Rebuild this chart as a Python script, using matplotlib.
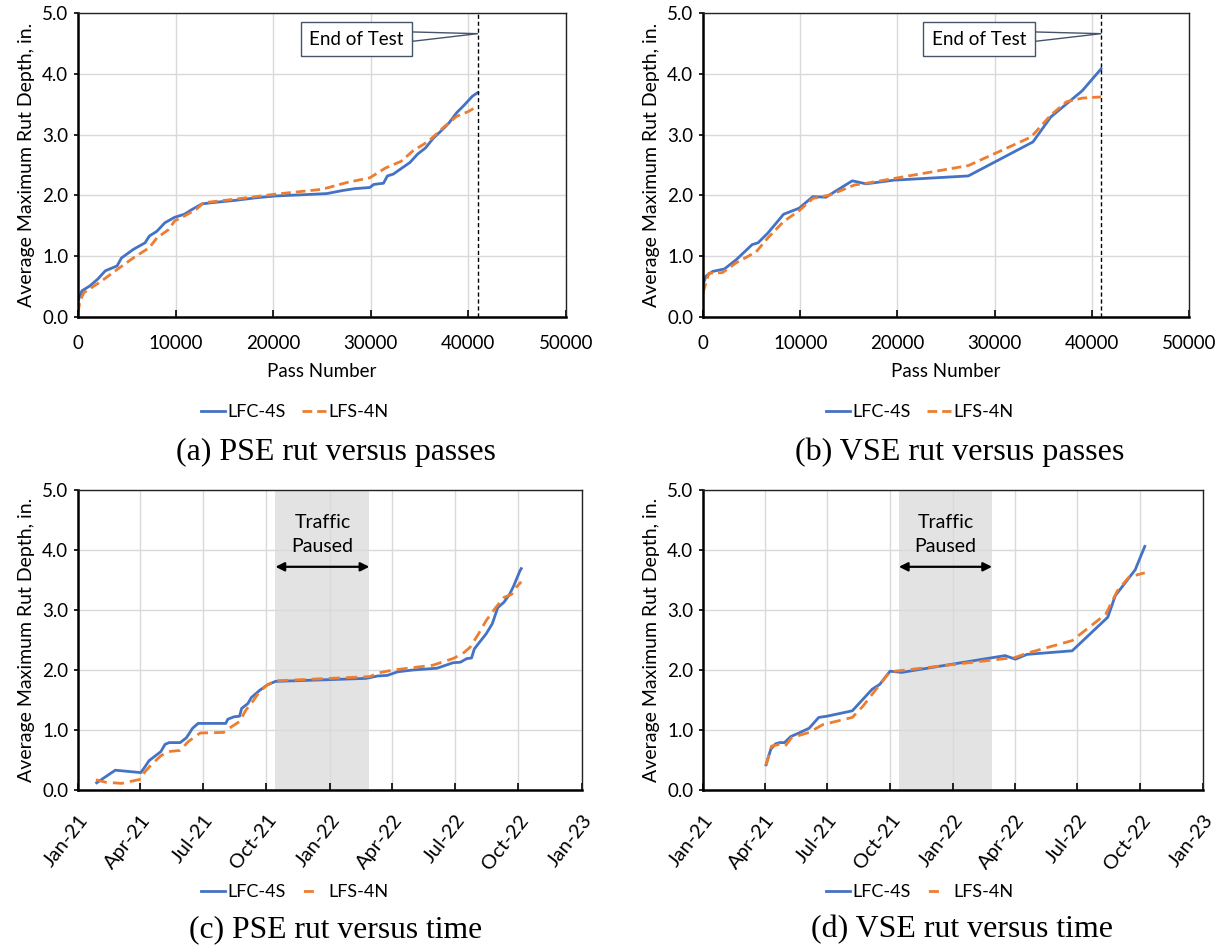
import matplotlib
matplotlib.use("Agg")
import matplotlib.pyplot as plt
import matplotlib.dates as mdates
from matplotlib.lines import Line2D
import pandas as pd

plt.rcParams['font.family'] = ['Lato', 'DejaVu Sans']

# ---------------- data ----------------
# (a) PSE rut versus passes
a_lfc_pass = [0, 400, 1200, 2000, 2800, 4000, 4450, 5650, 6870, 7300, 8080, 8900, 9900, 10900, 11700,
              12700, 13700, 16200, 18200, 20200, 24250, 25500, 27100, 28300, 29900, 30300, 31300,
              31700, 32300, 33100, 34000, 34800, 35600, 36400, 37200, 38000, 38800, 39600, 40400, 40950]
a_lfc_rut = [0.26, 0.43, 0.51, 0.62, 0.76, 0.84, 0.97, 1.11, 1.22, 1.33, 1.41, 1.55, 1.64, 1.69, 1.77,
             1.86, 1.88, 1.92, 1.96, 1.99, 2.02, 2.03, 2.08, 2.11, 2.13, 2.18, 2.20,
             2.32, 2.35, 2.44, 2.54, 2.68, 2.78, 2.94, 3.06, 3.19, 3.36, 3.49, 3.63, 3.69]
a_lfs_pass = [0, 200, 600, 2400, 4000, 5650, 7300, 8080, 9300, 9900, 10900, 12100, 12900, 16200,
              20200, 21400, 25000, 27500, 29900, 31500, 33100, 34300, 35900, 37600, 38800, 40000, 40950]
a_lfs_rut = [0.07, 0.26, 0.40, 0.59, 0.78, 0.97, 1.14, 1.30, 1.44, 1.58, 1.66, 1.77, 1.88, 1.94,
             2.02, 2.04, 2.10, 2.21, 2.29, 2.45, 2.56, 2.73, 2.89, 3.14, 3.30, 3.38, 3.47]

# (b) VSE rut versus passes
b_lfc_pass = [0, 300, 1000, 2200, 3400, 5050, 5660, 6670, 8290, 9900, 11300, 12650, 13540, 15360,
              16770, 19600, 27290, 33950, 35780, 39010, 40950]
b_lfc_rut = [0.53, 0.67, 0.75, 0.79, 0.94, 1.19, 1.22, 1.38, 1.69, 1.79, 1.98, 1.97, 2.06, 2.24,
             2.19, 2.25, 2.32, 2.88, 3.29, 3.72, 4.08]
b_lfs_pass = [0, 600, 2000, 3400, 5460, 6670, 8290, 9900, 11300, 13140, 15560, 17180, 20410, 27290,
              33750, 35780, 37400, 39010, 40950]
b_lfs_rut = [0.40, 0.72, 0.73, 0.89, 1.07, 1.30, 1.57, 1.75, 1.95, 2.01, 2.17, 2.21, 2.30, 2.49,
             2.96, 3.32, 3.54, 3.60, 3.62]

end_of_test_pass = 40950

# (c) PSE rut versus time
c_lfc_date = ['2021-01-28', '2021-02-24', '2021-04-02', '2021-04-07', '2021-04-14', '2021-04-22',
              '2021-05-01', '2021-05-07', '2021-05-13', '2021-05-29', '2021-06-07', '2021-06-16',
              '2021-06-24', '2021-08-03', '2021-08-06', '2021-08-15', '2021-08-23', '2021-08-26',
              '2021-09-04', '2021-09-09', '2021-09-21', '2021-10-02', '2021-10-14', '2022-01-02',
              '2022-02-22', '2022-03-11', '2022-03-25', '2022-04-09', '2022-05-01', '2022-06-05',
              '2022-06-28', '2022-07-09', '2022-07-18', '2022-07-25', '2022-07-29', '2022-08-04',
              '2022-08-15', '2022-08-24', '2022-09-01', '2022-09-10', '2022-09-18', '2022-09-24',
              '2022-10-03', '2022-10-05']
c_lfc_rut = [0.12, 0.33, 0.29, 0.37, 0.49, 0.56, 0.64, 0.76, 0.79, 0.79, 0.87, 1.03,
             1.11, 1.11, 1.18, 1.22, 1.23, 1.36, 1.44, 1.54, 1.66, 1.75, 1.81, 1.84,
             1.86, 1.90, 1.91, 1.97, 2.00, 2.03, 2.12, 2.13, 2.19, 2.20, 2.35, 2.44,
             2.60, 2.77, 3.04, 3.13, 3.26, 3.40, 3.65, 3.69]
c_lfs_date = ['2021-01-27', '2021-02-10', '2021-03-05', '2021-04-02', '2021-04-07', '2021-04-17',
              '2021-05-01', '2021-05-12', '2021-05-29', '2021-06-10', '2021-06-27', '2021-07-31',
              '2021-08-12', '2021-08-23', '2021-09-01', '2021-09-09', '2021-09-21', '2021-10-02',
              '2021-10-14', '2022-02-28', '2022-03-11', '2022-04-03', '2022-05-30', '2022-06-28',
              '2022-07-12', '2022-07-23', '2022-08-04', '2022-08-15', '2022-08-29', '2022-09-10',
              '2022-09-21', '2022-09-27', '2022-10-05']
c_lfs_rut = [0.17, 0.13, 0.11, 0.18, 0.29, 0.42, 0.57, 0.64, 0.66, 0.81, 0.95, 0.96,
             1.06, 1.14, 1.33, 1.44, 1.64, 1.75, 1.82, 1.89, 1.95, 2.00, 2.08, 2.19,
             2.27, 2.38, 2.60, 2.82, 3.04, 3.21, 3.26, 3.37, 3.47]

# (d) VSE rut versus time
d_lfc_date = ['2021-04-03', '2021-04-10', '2021-04-17', '2021-04-23', '2021-04-30', '2021-05-09',
              '2021-05-21', '2021-06-05', '2021-06-19', '2021-07-01', '2021-08-07', '2021-09-05',
              '2021-09-16', '2021-10-01', '2021-10-18', '2022-03-18', '2022-04-02', '2022-04-19',
              '2022-06-24', '2022-08-15', '2022-08-26', '2022-09-24', '2022-10-08']
d_lfc_rut = [0.42, 0.68, 0.77, 0.79, 0.79, 0.89, 0.95, 1.03, 1.21, 1.23, 1.32, 1.68,
             1.76, 1.98, 1.96, 2.24, 2.18, 2.26, 2.32, 2.88, 3.24, 3.67, 4.06]
d_lfs_date = ['2021-04-03', '2021-04-11', '2021-04-22', '2021-05-01', '2021-05-10', '2021-06-05',
              '2021-06-25', '2021-08-07', '2021-08-22', '2021-09-19', '2021-10-01', '2022-04-02',
              '2022-04-19', '2022-06-24', '2022-08-12', '2022-08-29', '2022-09-15', '2022-10-08']
d_lfs_rut = [0.41, 0.73, 0.76, 0.73, 0.87, 0.96, 1.09, 1.21, 1.39, 1.80, 1.97, 2.21,
             2.28, 2.49, 2.93, 3.32, 3.55, 3.62]

pause_start = '2021-10-14'
pause_end = '2022-02-27'

series_names = ['LFC-4S', 'LFS-4N']
captions = ['(a) PSE rut versus passes', '(b) VSE rut versus passes',
            '(c) PSE rut versus time', '(d) VSE rut versus time']

# ---------------- styling ----------------
BLUE = '#4472c4'
ORANGE = '#ed7d31'
DASH = (0, (3.5, 1.8))
FS = 13.5
W, H = 1222, 949
fig = plt.figure(figsize=(W / 100, H / 100), dpi=100)


def px_axes(left, top, right, bottom):
    return fig.add_axes([left / W, 1 - bottom / H, (right - left) / W, (bottom - top) / H])


def style(ax, xpad):
    ax.set_ylim(0, 5)
    ax.set_yticks([0, 1, 2, 3, 4, 5])
    ax.yaxis.set_major_formatter(matplotlib.ticker.FormatStrFormatter('%.1f'))
    ax.grid(True, color='#d9d9d9', lw=1)
    ax.set_axisbelow(True)
    for s in ['left', 'bottom']:
        ax.spines[s].set_linewidth(1.8)
        ax.spines[s].set_color('black')
    for s in ['top', 'right']:
        ax.spines[s].set_linewidth(1.0)
        ax.spines[s].set_color('#222222')
    ax.tick_params(axis='y', direction='out', length=3, width=1.2, labelsize=FS, pad=4)
    ax.tick_params(axis='x', direction='in', length=5, width=1.2, labelsize=FS, pad=xpad)
    ax.set_ylabel('Average Maximum Rut Depth, in.', fontsize=14, labelpad=5)


def add_legend(cx, cy, handles):
    fig.legend(handles, series_names, loc='center', bbox_to_anchor=(cx / W, 1 - cy / H),
               ncol=2, frameon=False, fontsize=13, handlelength=1.3, columnspacing=0.9,
               handletextpad=0.15)


caption_texts = []


def caption(text, cx, cy, target_w):
    t = fig.text(cx / W, 1 - cy / H, text, ha='center', va='center', fontsize=20,
                 family='Liberation Serif')
    caption_texts.append((t, target_w))


def end_of_test(ax, text_x):
    ax.axvline(end_of_test_pass, color='black', lw=1.0, ls=(0, (3, 2)))
    ax.annotate('End of Test', xy=(end_of_test_pass, 4.66), xytext=(text_x, 4.57),
                ha='center', va='center', fontsize=FS,
                bbox=dict(boxstyle='square,pad=0.45', fc='white', ec='#44546a', lw=1.0),
                arrowprops=dict(arrowstyle='wedge,tail_width=0.5,shrink_factor=0.5',
                                fc='white', ec='#44546a', lw=1.0, shrinkA=0, shrinkB=0))


def pause(ax):
    s, e = pd.Timestamp(pause_start), pd.Timestamp(pause_end)
    ax.axvspan(s, e, color='#e3e3e3', lw=0, zorder=0.5)
    mid = s + (e - s) / 2
    ax.annotate('', xy=(s, 3.72), xytext=(e, 3.72),
                arrowprops=dict(arrowstyle='<|-|>', color='black', lw=1.6, mutation_scale=13,
                                shrinkA=0, shrinkB=0))
    ax.text(mid, 4.26, 'Traffic\nPaused', ha='center', va='center', fontsize=14,
            linespacing=1.5)


# (a)
axa = px_axes(78, 13, 566, 317)
la, = axa.plot(a_lfc_pass, a_lfc_rut, color=BLUE, lw=2.0)
lb, = axa.plot(a_lfs_pass, a_lfs_rut, color=ORANGE, lw=2.0, ls=DASH)
axa.set_xlim(0, 50000)
axa.set_xticks(range(0, 50001, 10000))
style(axa, 13)
axa.set_xlabel('Pass Number', fontsize=FS, labelpad=8)
end_of_test(axa, 28500)
add_legend(295, 412, [la, lb])
caption(captions[0], 336, 452, 321)

# (b)
axb = px_axes(703, 13, 1189, 317)
la, = axb.plot(b_lfc_pass, b_lfc_rut, color=BLUE, lw=2.0)
lb, = axb.plot(b_lfs_pass, b_lfs_rut, color=ORANGE, lw=2.0, ls=DASH)
axb.set_xlim(0, 50000)
axb.set_xticks(range(0, 50001, 10000))
style(axb, 13)
axb.set_xlabel('Pass Number', fontsize=FS, labelpad=8)
end_of_test(axb, 28400)
add_legend(920, 412, [la, lb])
caption(captions[1], 960, 452, 330)

date_ticks = pd.date_range('2021-01-01', '2023-01-01', freq='QS')


def time_axes(ax):
    ax.set_xlim(pd.Timestamp('2021-01-01'), pd.Timestamp('2023-01-01'))
    ax.set_xticks(date_ticks)
    ax.xaxis.set_major_formatter(mdates.DateFormatter('%b-%y'))
    style(ax, 15.5)
    for t in ax.get_xticklabels():
        t.set_rotation(52)
        t.set_ha('right')
        t.set_rotation_mode('anchor')
        t.set_fontsize(14.5)


# legend handle for time plots: a single short dash
time_dash_handle = Line2D([], [], color=ORANGE, lw=2.0, ls=(13.1, (3.6, 10)))

# (c)
axc = px_axes(78, 490, 582, 790)
la, = axc.plot(pd.to_datetime(c_lfc_date), c_lfc_rut, color=BLUE, lw=2.0, zorder=3)
lb, = axc.plot(pd.to_datetime(c_lfs_date), c_lfs_rut, color=ORANGE, lw=2.0, ls=(0, (4, 2.2)), zorder=3)
time_axes(axc)
pause(axc)
add_legend(295, 892, [la, time_dash_handle])
caption(captions[2], 336, 930, 294)

# (d)
axd = px_axes(703, 490, 1203, 790)
la, = axd.plot(pd.to_datetime(d_lfc_date), d_lfc_rut, color=BLUE, lw=2.0, zorder=3)
lb, = axd.plot(pd.to_datetime(d_lfs_date), d_lfs_rut, color=ORANGE, lw=2.0, ls=(0, (4, 2.2)), zorder=3)
time_axes(axd)
pause(axd)
add_legend(920, 892, [la, time_dash_handle])
caption(captions[3], 962, 930, 302)

# size captions so their widths match the reference
fig.canvas.draw()
r = fig.canvas.get_renderer()
for t, tw in caption_texts:
    w = t.get_window_extent(r).width
    t.set_fontsize(20 * tw / w)

fig.savefig('out.png', dpi=100)
